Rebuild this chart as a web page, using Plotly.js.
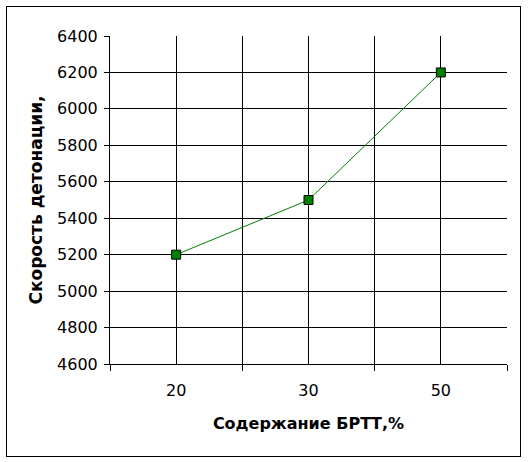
<!DOCTYPE html>
<html>
<head>
<meta charset="utf-8">
<script src="https://cdn.plot.ly/plotly-3.0.1.min.js"></script>
<style>
html,body{margin:0;padding:0;background:#fff;}
#chart{position:absolute;left:0;top:0;width:528px;height:462px;}
#frame{position:absolute;left:6px;top:6px;width:513px;height:449px;border:1px solid #000;pointer-events:none;}
</style>
</head>
<body>
<div id="chart"></div>
<div id="frame"></div>
<script>
const categories = ["20", "30", "50"];
const velocity = [5200, 5500, 6200];
const xTitle = "Содержание БРТТ,%";
const yTitle = "Скорость детонации,";

const xIdx = categories.map((c, i) => i);

const trace = {
  x: xIdx,
  y: velocity,
  type: "scatter",
  mode: "lines+markers",
  line: {color: "#008000", width: 1},
  marker: {symbol: "square", size: 9, color: "#008000", line: {color: "#000", width: 1}},
  hoverinfo: "skip",
  cliponaxis: false
};

const fam = "DejaVu Sans, Verdana, sans-serif";

const layout = {
  width: 528,
  height: 462,
  margin: {l: 110, r: 21, t: 36, b: 98},
  paper_bgcolor: "#fff",
  plot_bgcolor: "#fff",
  showlegend: false,
  font: {family: fam, size: 16, color: "#000"},
  xaxis: {
    range: [-0.5, categories.length - 0.5],
    tickvals: xIdx,
    ticktext: categories,
    ticks: "outside",
    ticklen: 12,
    tickcolor: "rgba(0,0,0,0)",
    showgrid: true,
    gridcolor: "#000",
    gridwidth: 1,
    showline: true,
    linecolor: "#000",
    linewidth: 1,
    zeroline: false,
    tickfont: {family: fam, size: 16, color: "#000"},
    minor: {tick0: -0.5, dtick: 1, ticks: "outside", ticklen: 6, tickcolor: "#000", showgrid: true, gridcolor: "#000", gridwidth: 1},
    title: {text: xTitle, font: {family: fam, size: 16, color: "#000", weight: "bold"}, standoff: 18},
    fixedrange: true
  },
  yaxis: {
    range: [4600, 6400],
    dtick: 200,
    tick0: 4600,
    ticks: "outside",
    ticklen: 5,
    tickcolor: "#000",
    ticklabelstandoff: 3,
    showgrid: true,
    gridcolor: "#000",
    gridwidth: 1,
    showline: true,
    linecolor: "#000",
    linewidth: 1,
    zeroline: false,
    tickfont: {family: fam, size: 16, color: "#000"},
    title: {text: yTitle, font: {family: fam, size: 17, color: "#000", weight: "bold"}, standoff: 10},
    fixedrange: true
  }
};

Plotly.newPlot("chart", [trace], layout, {displayModeBar: false, staticPlot: true});
</script>
</body>
</html>
